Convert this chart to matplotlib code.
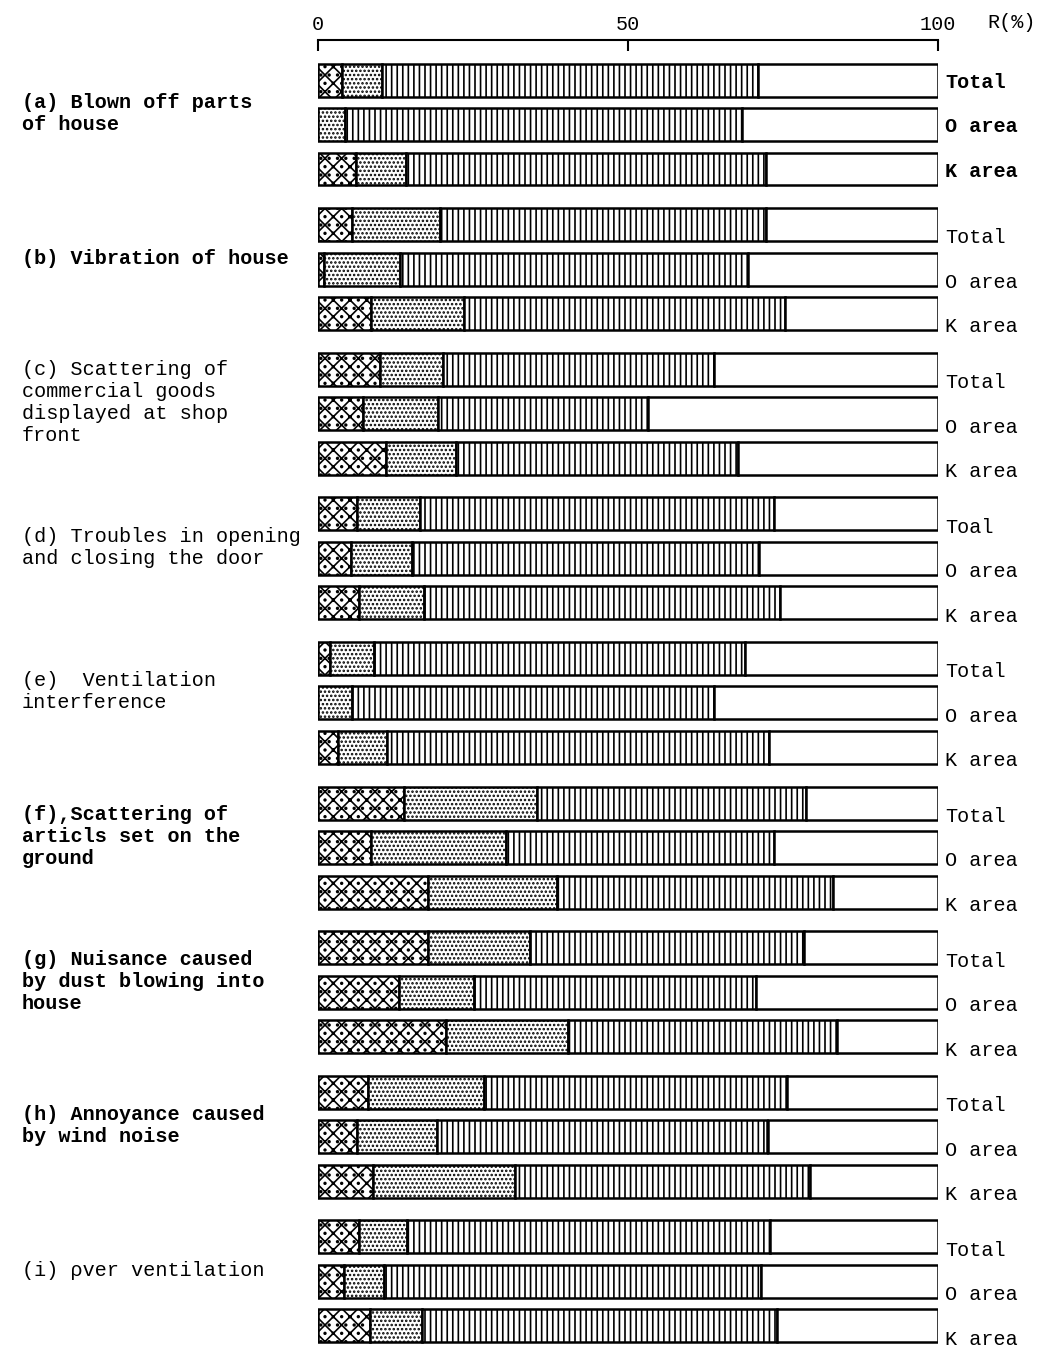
import matplotlib.pyplot as plt
import numpy as np

plt.rcParams['font.family'] = ['Liberation Mono', 'DejaVu Sans Mono']
plt.rcParams['hatch.linewidth'] = 1.2
fs = 14.5

# 各项目 (a)-(i)
items = ['(a) Blown off parts\nof house',
         '(b) Vibration of house',
         '(c) Scattering of\ncommercial goods\ndisplayed at shop\nfront',
         '(d) Troubles in opening\nand closing the door',
         '(e)  Ventilation\ninterference',
         '(f),Scattering of\narticls set on the\nground',
         '(g) Nuisance caused\nby dust blowing into\nhouse',
         '(h) Annoyance caused\nby wind noise',
         '(i) \u03c1ver ventilation']
item_bold = [True, True, False, False, False, True, True, True, False]
areas = [['Total', 'O area', 'K area'],
         ['Total', 'O area', 'K area'],
         ['Total', 'O area', 'K area'],
         ['Toal', 'O area', 'K area'],
         ['Total', 'O area', 'K area'],
         ['Total', 'O area', 'K area'],
         ['Total', 'O area', 'K area'],
         ['Total', 'O area', 'K area'],
         ['Total', 'O area', 'K area']]

# R(%) 每组: Total, O area, K area
very = [[3.9, 0.0, 6.1], [5.5, 1.0, 8.6], [10.0, 7.3, 11.0],
        [6.3, 5.3, 6.6], [1.9, 0.0, 3.2], [13.9, 8.6, 17.8],
        [17.8, 13.1, 20.7], [8.1, 6.3, 8.9], [6.6, 4.2, 8.4]]
fairly = [[6.5, 4.4, 8.1], [14.2, 12.3, 14.9], [10.1, 12.0, 11.2],
          [10.2, 9.9, 10.5], [7.1, 5.5, 8.0], [21.4, 21.8, 20.8],
          [16.4, 12.1, 19.7], [18.6, 12.9, 22.8], [7.8, 6.5, 8.3]]
slight = [[60.5, 64.0, 58.1], [52.6, 56.1, 51.9], [43.8, 33.9, 45.5],
          [57.0, 56.0, 57.4], [59.9, 58.3, 61.6], [43.4, 43.1, 44.4],
          [44.2, 45.4, 43.3], [48.9, 53.3, 47.7], [58.5, 60.7, 57.4]]

hatches = ['xx..', '....', '|||', '']

fig = plt.figure(figsize=(10.49, 13.5), dpi=100)
ax = fig.add_axes([318 / 1049, 1 - 1345 / 1350, 620 / 1049, 1305 / 1350])

gap = 3.25
for g in range(len(items)):
    for j in range(3):
        y = g * gap + j
        segs = [very[g][j], fairly[g][j], slight[g][j]]
        segs.append(100 - sum(segs))
        left = 0
        for w, h in zip(segs, hatches):
            if w > 0:
                ax.barh(y, w, left=left, height=0.74, color='white',
                        edgecolor='black', linewidth=1.8, hatch=h)
            left += w
        off = 0.05 if g == 0 else 0.3
        ax.text(101.2, y + off, areas[g][j], fontsize=fs,
                va='center', ha='left',
                fontweight='bold' if g == 0 else 'normal')
    ax.text(-0.478, g * gap + 1 - 0.25, items[g], transform=ax.get_yaxis_transform(),
            fontsize=fs, va='center', ha='left', linespacing=1.2,
            fontweight='bold' if item_bold[g] else 'normal')

ax.set_xlim(0, 100)
ax.set_ylim(8 * gap + 2 + 0.43, -0.9)
for s in ['left', 'right', 'bottom']:
    ax.spines[s].set_visible(False)
ax.spines['top'].set_linewidth(1.5)
ax.xaxis.tick_top()
ax.set_xticks([0, 50, 100])
ax.set_xticklabels(['0', '50', '100'], fontsize=fs)
ax.tick_params(axis='x', direction='in', length=8, width=1.5, pad=4)
ax.set_yticks([])
ax.text(1.08, 1.006, 'R(%)', transform=ax.transAxes, fontsize=fs,
        va='bottom', ha='left')

fig.savefig('out.png', dpi=100)
